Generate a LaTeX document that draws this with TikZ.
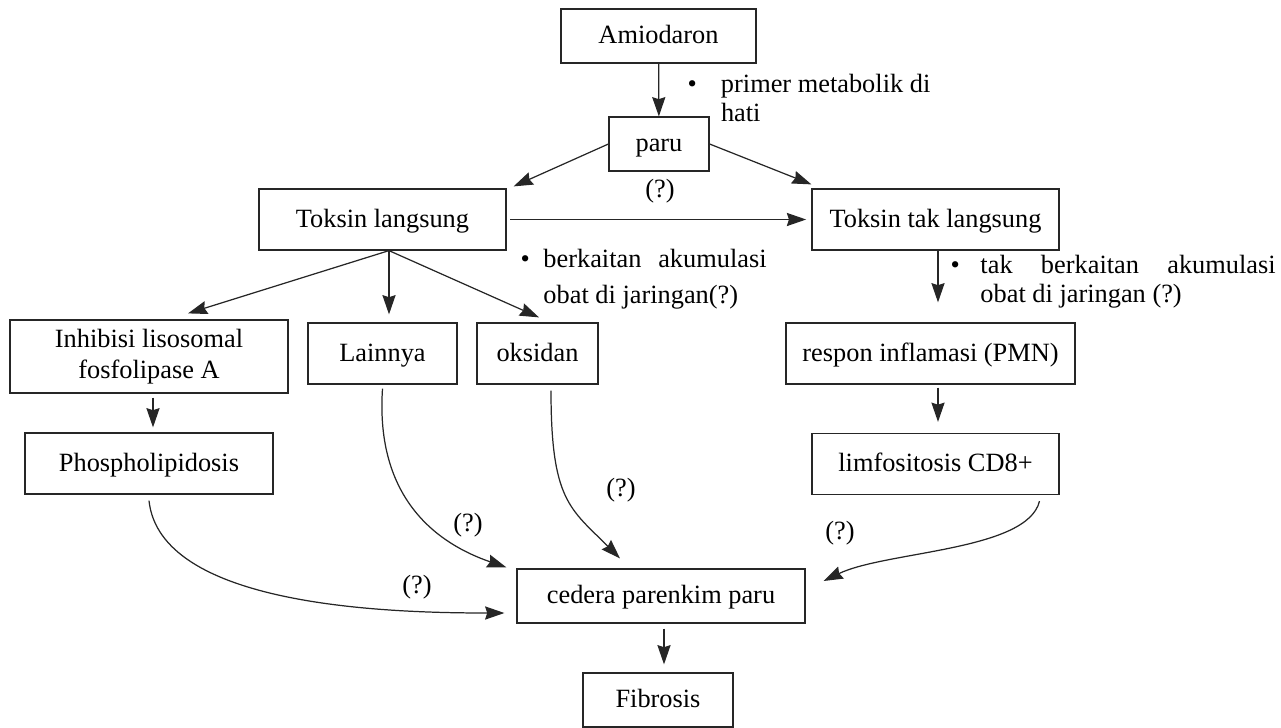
\documentclass[tikz,border=0pt]{standalone}
\usepackage{fontspec}
\setmainfont{Liberation Serif}
\usepackage{tikz}
\usetikzlibrary{positioning, arrows.meta, calc}
\tikzset{frame/.style={
    rectangle,
    draw,
    inner sep=2pt,
    minimum height=1.22cm,
    font=\fontsize{15}{18}\selectfont
}}
\tikzset{box/.style={
    frame,
    text height=11.5pt,
    text depth=2.5pt
}}
\tikzset{note/.style={
    align=left,
    inner sep=0pt,
    anchor=north west,
    font=\fontsize{15}{16}\selectfont
}}
\tikzset{ask/.style={
    inner sep=0pt,
    font=\fontsize{15}{16}\selectfont
}}

\begin{document}
\begin{tikzpicture}[
    x=0.02cm, y=-0.02cm,
    >={Stealth[length=11pt, width=7.5pt, inset=1.2pt]}, line width=0.7pt, black!85,
    text=black,
]
    \useasboundingbox (0,0) rectangle (1281,727);
    % boxes
    \node (amio)     [box, minimum width=3.9cm, minimum height=1.08cm] at (658.5,36) {Amiodaron};
    \node (paru)     [box, minimum width=2cm, minimum height=1.08cm]   at (659,144)   {paru};
    \node (direct)   [box, minimum width=4.94cm] at (382.5,219.5) {Toksin langsung};
    \node (indirect) [box, minimum width=4.94cm] at (935.5,219.5) {Toksin tak langsung};
    \node (lyso)     [frame, minimum width=5.56cm, minimum height=1.46cm, align=center] at (149,356.5) {Inhibisi lisosomal\\fosfolipase A};
    \node (other)    [box, minimum width=2.98cm] at (382.5,353.5) {Lainnya};
    \node (oxid)     [box, minimum width=2.42cm] at (537.5,353.5) {oksidan};
    \node (inflam)   [box, minimum width=5.78cm] at (930.5,353.5) {respon inflamasi (PMN)};
    \node (phos)     [box, minimum width=4.96cm] at (149,463.5)   {Phospholipidosis};
    \node (cd8)      [box, minimum width=4.94cm] at (935.5,464)   {limfositosis CD8+};
    \node (injury)   [box, minimum width=5.76cm, minimum height=1.08cm] at (661,596) {cedera parenkim paru};
    \node (fib)      [box, minimum width=3cm, minimum height=1.08cm]    at (658,700)   {Fibrosis};
    % notes
    \node (noteA) [note] at (687,74)  {\makebox[19pt][l]{\textbullet}primer metabolik di\\\hspace*{19pt}hati};
    \node (noteB) [note, font=\fontsize{15}{20}\selectfont] at (520,249)
        {\makebox[13pt][l]{\textbullet}\makebox[127pt][s]{berkaitan akumulasi}\\\hspace*{13pt}obat di jaringan(?)};
    \node (noteC) [note, font=\fontsize{15}{16.5}\selectfont] at (950,255)
        {\makebox[17pt][l]{\textbullet}\makebox[168pt][s]{tak berkaitan akumulasi}\\\hspace*{17pt}obat di jaringan (?)};
    % straight arrows
    \draw [->] (amio) -- (paru);
    \draw [->] (paru.west) -- ($(direct.north east)+(7,-2)$);
    \draw [->] (paru.east) -- ($(indirect.north west)+(0,-4)$);
    \draw [->, shorten <=2pt, shorten >=3pt] (direct) -- (indirect);
    \node (q0) [ask] at (660,191) {(?)};
    \draw [->] ($(direct.south)+(6.5,0)$) -- ($(lyso.north)+(39,-6)$);
    \draw [->] ($(direct.south)+(6.5,0)$) -- ($(other.north)+(6.5,-8)$);
    \draw [->] ($(direct.south)+(6.5,0)$) -- ($(oxid.north)+(1.5,-5)$);
    \draw [->] ($(indirect.south)+(2.5,0)$) -- ($(inflam.north)+(7.5,-20)$);
    \draw [->] ($(inflam.south)+(7.5,3)$) -- ($(cd8.north)+(2.5,-11)$);
    \draw [->] ($(lyso.south)+(4,4)$) -- ($(phos.north)+(4,-5)$);
    \draw [->] ($(injury.south)+(3,5)$) -- ($(fib.north)+(6,-8)$);
    % curved arrows into the injury box
    \draw [->] ($(phos.south)+(0,6)$) .. controls +(11,104) and +(-125,0) .. ($(injury.west)+(-12,17)$);
    \draw [->] ($(other.south)+(0,4)$) .. controls +(-7.5,112) and +(-67,-23) .. ($(injury.north west)+(-10,-1)$);
    \draw [->] ($(oxid.south)+(13.5,6)$) .. controls +(0,110) and +(-50,-50) .. ($(injury.north)+(-41,-10)$);
    \draw [->] ($(cd8.south)+(104,6)$) .. controls +(-12,50) and +(62,-30) .. ($(injury.east)+(18,-15)$);
    \node (q1) [ask] at (468,525) {(?)};
    \node (q2) [ask] at (417,587) {(?)};
    \node (q3) [ask] at (621,490) {(?)};
    \node (q4) [ask] at (840,533) {(?)};
\end{tikzpicture}
\end{document}
